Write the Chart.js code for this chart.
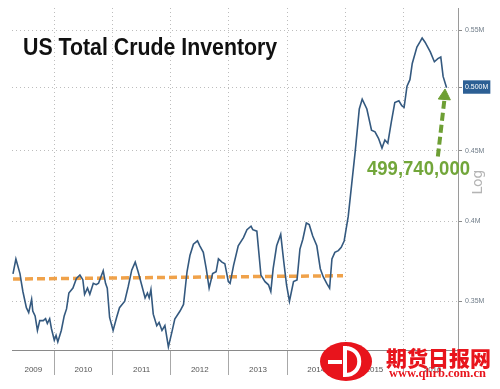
<!DOCTYPE html>
<html>
<head>
<meta charset="utf-8">
<title>US Total Crude Inventory</title>
<script src="https://cdn.jsdelivr.net/npm/chart.js@4.4.1/dist/chart.umd.min.js"></script>
<style>
    html, body { margin: 0; padding: 0; background: #fff; }
    #wrap { position: relative; width: 500px; height: 389px; overflow: hidden; }
    #chart { position: absolute; left: 0; top: 0; }
    .txt { position: absolute; white-space: nowrap; line-height: 1; }
    #title {
        left: 23px; top: 33px; font: bold 24.5px "Liberation Sans", Arial, sans-serif;
        color: #111; transform: scaleX(0.87); transform-origin: left top;
    }
    #lastValue {
        left: 367px; top: 157px; font: bold 19.5px "Liberation Sans", Arial, sans-serif;
        color: #72a63a; transform: scaleX(0.95); transform-origin: left top;
    }
    #logLabel {
        left: 464px; top: 174px; font: 14px "DejaVu Sans", sans-serif; color: #b4b4b4;
        transform: rotate(-90deg); transform-origin: center center;
    }
    #wmLogo { position: absolute; left: 320px; top: 342px; }
    #wmName {
        left: 386px; top: 342px; font: 900 21px "Noto Sans CJK SC", sans-serif; color: #e8141c;
    }
    #wmUrl {
        left: 389px; top: 366px; font: bold 12.5px "Liberation Serif", serif; color: #e8141c;
    }
</style>
</head>
<body>
<div id="wrap">
    <canvas id="chart" width="500" height="389"></canvas>
    <div class="txt" id="title">US Total Crude Inventory</div>
    <div class="txt" id="lastValue">499,740,000</div>
    <div class="txt" id="logLabel">Log</div>
    <svg id="wmLogo" width="54" height="40" viewBox="0 0 54 40">
        <ellipse cx="26" cy="19.5" rx="26" ry="19.5" fill="#e8141c"/>
        <path d="M25 4 L25 35 M25 6 C44 6 44 33 25 33" stroke="#fff" stroke-width="4" fill="none"/>
        <path d="M8 20 L22 20" stroke="#fff" stroke-width="4"/>
    </svg>
    <div class="txt" id="wmName">期货日报网</div>
    <div class="txt" id="wmUrl">www.qhrb.com.cn</div>
</div>
<script>
// weekly crude stocks, millions of barrels (decimal years on x)
var inventoryDates = [
    2009.29, 2009.34, 2009.41, 2009.46, 2009.52, 2009.56, 2009.61, 2009.63, 2009.67, 2009.71,
    2009.75, 2009.81, 2009.85, 2009.88, 2009.92, 2009.95, 2010.00, 2010.03, 2010.06, 2010.12,
    2010.17, 2010.21, 2010.25, 2010.32, 2010.38, 2010.44, 2010.49, 2010.52, 2010.57, 2010.61,
    2010.67, 2010.72, 2010.76, 2010.84, 2010.88, 2010.91, 2010.95, 2011.01, 2011.07, 2011.12,
    2011.21, 2011.27, 2011.33, 2011.39, 2011.44, 2011.50, 2011.56, 2011.60, 2011.63, 2011.66,
    2011.70, 2011.76, 2011.80, 2011.85, 2011.90, 2011.96, 2012.02, 2012.07, 2012.16, 2012.22,
    2012.28, 2012.33, 2012.39, 2012.46, 2012.50, 2012.56, 2012.61, 2012.66, 2012.72, 2012.78,
    2012.82, 2012.88, 2012.93, 2012.99, 2013.02, 2013.08, 2013.16, 2013.25, 2013.31, 2013.38,
    2013.41, 2013.48, 2013.55, 2013.62, 2013.68, 2013.72, 2013.76, 2013.82, 2013.89, 2013.94,
    2013.99, 2014.04, 2014.11, 2014.17, 2014.22, 2014.27, 2014.33, 2014.38, 2014.44, 2014.51,
    2014.57, 2014.62, 2014.68, 2014.73, 2014.77, 2014.82, 2014.88, 2014.93, 2014.98, 2015.05,
    2015.11, 2015.17, 2015.24, 2015.29, 2015.37, 2015.45, 2015.51, 2015.57, 2015.63, 2015.68,
    2015.73, 2015.79, 2015.85, 2015.92, 2015.97, 2016.01, 2016.06, 2016.11, 2016.15, 2016.23,
    2016.28, 2016.32, 2016.37, 2016.46, 2016.53, 2016.59, 2016.64, 2016.68, 2016.74
];
var inventoryValues = [
    366.3, 375.5, 366.5, 355.7, 346.2, 343.4, 351.1, 344.3, 341.5, 333.3,
    338.8, 338.8, 339.9, 337.2, 339.9, 334.4, 327.9, 330.6, 327.0, 333.3,
    341.5, 345.5, 354.8, 357.7, 363.5, 365.6, 362.8, 354.0, 357.7, 354.0,
    360.6, 359.8, 360.6, 368.2, 360.6, 357.7, 340.6, 333.3, 340.6, 346.2,
    350.0, 358.7, 368.6, 373.6, 367.6, 359.7, 351.9, 354.8, 351.9, 356.8,
    342.5, 336.0, 337.8, 333.3, 336.0, 324.3, 332.4, 339.7, 344.3, 348.1,
    367.6, 377.7, 384.9, 387.1, 383.9, 379.7, 369.5, 357.7, 366.5, 367.6,
    375.6, 373.6, 372.6, 361.6, 360.6, 371.6, 383.9, 389.2, 394.4, 396.7,
    394.4, 393.4, 365.6, 361.6, 359.7, 355.7, 369.5, 383.9, 391.3, 374.6,
    359.7, 350.0, 361.6, 362.6, 381.8, 388.1, 398.8, 397.7, 390.2, 383.9,
    369.5, 364.6, 360.6, 357.7, 375.6, 379.7, 380.8, 382.9, 387.0, 403.2,
    425.7, 449.4, 482.4, 490.4, 482.4, 465.6, 464.3, 459.4, 451.9, 458.1,
    455.6, 472.0, 487.6, 489.0, 485.0, 483.7, 501.1, 506.6, 520.5, 534.9,
    539.3, 543.1, 539.3, 530.6, 522.0, 524.8, 526.2, 509.4, 499.74
];

// orange dashed average line
var trendDates = [2009.29, 2014.96];
var trendValues = [363.2, 365.2];

// green arrow pointing at the last value
var arrowDates = [2016.59, 2016.70];
var arrowValues = [445.6, 489.0];
var arrowHeadDate = 2016.705;
var arrowHeadValue = 493.0;

// x axis: year separators and year labels centred in each year
var yearBoundaries = [2010, 2011, 2012, 2013, 2014, 2015, 2016];
var yearLabelPos = [2009.64, 2010.5, 2011.5, 2012.5, 2013.5, 2014.5, 2015.5, 2016.5];
var yearLabels = ['2009', '2010', '2011', '2012', '2013', '2014', '2015', '2016'];

// y axis (log)
var yTickValues = [350, 400, 450, 500, 550];
var yTickLabels = ['0.35M', '0.4M', '0.45M', '0.500M', '0.55M'];
var currentValueTick = 500;

function toPoints(xs, ys) {
    return xs.map(function(x, i) { return { x: x, y: ys[i] }; });
}

function isBoundary(v) {
    return yearBoundaries.indexOf(v) !== -1;
}

var ctx = document.getElementById('chart');
new Chart(ctx, {
    type: 'line',
    data: {
        datasets: [
            {
                data: toPoints(inventoryDates, inventoryValues),
                borderColor: '#34597f',
                borderWidth: 1.6,
                pointRadius: 0,
                tension: 0
            },
            {
                data: toPoints(trendDates, trendValues),
                borderColor: '#f0a24a',
                borderWidth: 3.5,
                borderDash: [8, 4],
                pointRadius: 0
            },
            {
                data: toPoints(arrowDates, arrowValues),
                borderColor: '#6e9f34',
                borderWidth: 4,
                borderDash: [8, 4],
                pointRadius: 0
            },
            {
                data: [{ x: arrowHeadDate, y: arrowHeadValue }],
                showLine: false,
                pointStyle: 'triangle',
                pointRadius: 7,
                pointRotation: 4,
                pointBackgroundColor: '#6e9f34',
                pointBorderColor: '#6e9f34',
                pointBorderWidth: 1
            }
        ]
    },
    options: {
        responsive: false,
        animation: false,
        devicePixelRatio: 1,
        layout: { padding: { left: 12, top: 0, right: 0, bottom: 0 } },
        plugins: {
            legend: { display: false },
            tooltip: { enabled: false },
            title: { display: false }
        },
        scales: {
            x: {
                type: 'linear',
                min: 2009.273,
                max: 2016.936,
                afterBuildTicks: function(scale) {
                    var vals = yearBoundaries.concat(yearLabelPos).sort(function(a, b) { return a - b; });
                    scale.ticks = vals.map(function(v) { return { value: v }; });
                },
                afterFit: function(scale) { scale.height = 39; },
                // in v4 border.dash is what dashes the grid lines
                border: { color: '#8a8a8a', width: 1, dash: [1, 3] },
                grid: {
                    color: function(c) {
                        return c.tick && isBoundary(c.tick.value) ? '#bdbdbd' : 'rgba(0,0,0,0)';
                    },
                    tickColor: function(c) {
                        return c.tick && isBoundary(c.tick.value) ? '#a8a8a8' : 'rgba(0,0,0,0)';
                    },
                    tickBorderDash: [],
                    tickLength: 25,
                    lineWidth: 1
                },
                ticks: {
                    autoSkip: false,
                    maxRotation: 0,
                    padding: -10,
                    color: '#555',
                    font: { family: '"Liberation Sans Narrow", "Liberation Sans", sans-serif', size: 8 },
                    callback: function(value) {
                        var i = yearLabelPos.indexOf(value);
                        return i === -1 ? '' : yearLabels[i];
                    }
                }
            },
            y: {
                type: 'logarithmic',
                position: 'right',
                min: 322.6,
                max: 571,
                afterBuildTicks: function(scale) {
                    scale.ticks = yTickValues.map(function(v) { return { value: v }; });
                },
                afterFit: function(scale) { scale.width = 42; },
                border: { color: '#9a9a9a', width: 1, dash: [1, 3] },
                grid: {
                    color: '#bdbdbd',
                    tickBorderDash: [],
                    tickColor: '#8a8a8a',
                    tickLength: 4
                },
                ticks: {
                    padding: 3,
                    color: function(c) {
                        return c.tick && c.tick.value === currentValueTick ? '#ffffff' : '#6f7c88';
                    },
                    showLabelBackdrop: function(c) {
                        return !!(c.tick && c.tick.value === currentValueTick);
                    },
                    backdropColor: '#2c5f94',
                    backdropPadding: { left: 2, right: 2, top: 3, bottom: 2 },
                    font: { family: '"Liberation Sans Narrow", "Liberation Sans", sans-serif', size: 7 },
                    callback: function(value) {
                        var i = yTickValues.indexOf(value);
                        return i === -1 ? '' : yTickLabels[i];
                    }
                }
            }
        }
    }
});
</script>
</body>
</html>
